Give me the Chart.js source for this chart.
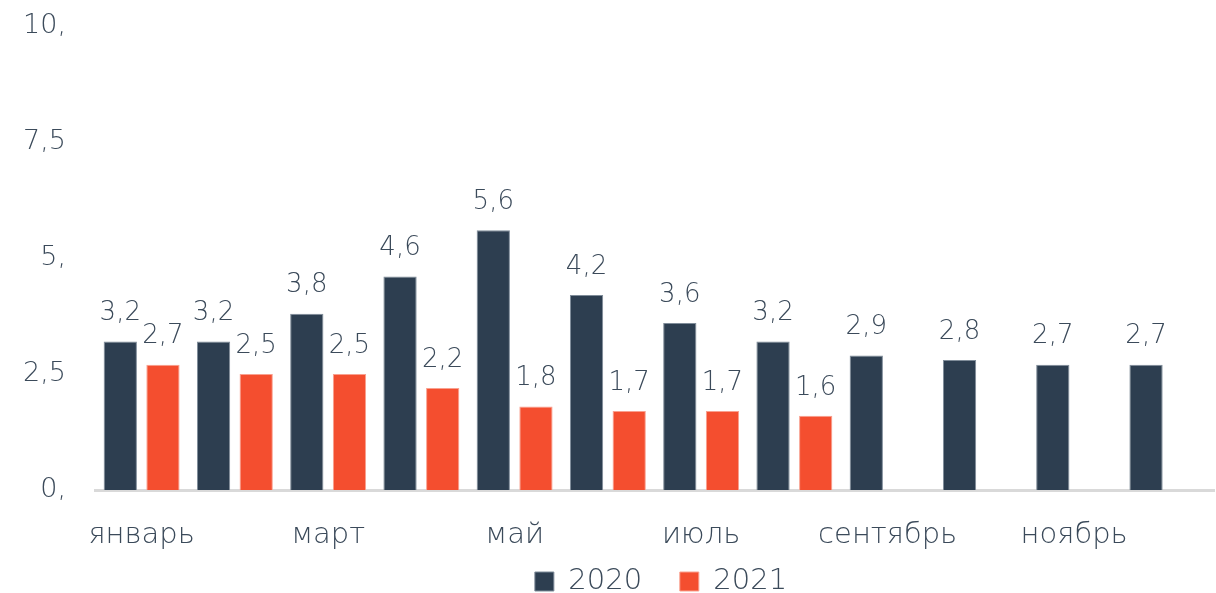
<!DOCTYPE html>
<html>
<head>
<meta charset="utf-8">
<script src="https://cdn.jsdelivr.net/npm/chart.js@4"></script>
<style>
  html, body { margin: 0; padding: 0; background: #fff; }
  #wrap { width: 1216px; height: 593px; }
</style>
</head>
<body>
<div id="wrap"><canvas id="chart"></canvas></div>
<script>
// данные
const months = ["январь", "февраль", "март", "апрель", "май", "июнь",
                "июль", "август", "сентябрь", "октябрь", "ноябрь", "декабрь"];
const values2020 = [3.2, 3.2, 3.8, 4.6, 5.6, 4.2, 3.6, 3.2, 2.9, 2.8, 2.7, 2.7];
const values2021 = [2.7, 2.5, 2.5, 2.2, 1.8, 1.7, 1.7, 1.6, null, null, null, null];
const yTicks = [0, 2.5, 5, 7.5, 10];

const FONT = "'DejaVu Sans', sans-serif";
const TEXT_COLOR = "#3b4a5a";

function formatNum(v) {
    if (Number.isInteger(v)) return v + ",";
    return String(v).replace(".", ",");
}

// подписи над столбиками
const barLabels = {
    id: "barLabels",
    afterDatasetsDraw(chart) {
        const ctx = chart.ctx;
        ctx.save();
        ctx.font = "200 26px " + FONT;
        ctx.fillStyle = TEXT_COLOR;
        ctx.textAlign = "center";
        ctx.textBaseline = "bottom";
        chart.data.datasets.forEach((ds, i) => {
            const meta = chart.getDatasetMeta(i);
            meta.data.forEach((bar, j) => {
                const v = ds.data[j];
                if (v === null || v === undefined) return;
                ctx.fillText(formatNum(v), bar.x, bar.y - 15);
            });
        });
        ctx.restore();
    }
};

// легенда чуть правее центра, как в оригинале
const shiftLegend = {
    id: "shiftLegend",
    afterLayout(chart) {
        const legend = chart.legend;
        legend.left += 54;
        legend.right += 54;
    }
};

new Chart(document.getElementById("chart"), {
    type: "bar",
    data: {
        labels: months,
        datasets: [
            {
                label: "2020",
                data: values2020,
                backgroundColor: "#2d3e50",
                borderColor: "#7f8c99",
                borderWidth: 1,
                barPercentage: 0.78,
                categoryPercentage: 0.915
            },
            {
                label: "2021",
                data: values2021,
                backgroundColor: "#f44e2f",
                borderColor: "#f9a08f",
                borderWidth: 1,
                barPercentage: 0.78,
                categoryPercentage: 0.915
            }
        ]
    },
    options: {
        responsive: true,
        maintainAspectRatio: false,
        animation: false,
        layout: { padding: { top: 26, right: 2, left: 0, bottom: -13 } },
        plugins: {
            tooltip: { enabled: false },
            legend: {
                position: "bottom",
                labels: {
                    boxWidth: 19,
                    boxHeight: 19,
                    padding: 10,
                    color: TEXT_COLOR,
                    font: { family: FONT, size: 29, weight: 200, lineHeight: 1 },
                    // пробелы дают промежуток между элементами легенды
                    generateLabels: (chart) => Chart.defaults.plugins.legend.labels
                        .generateLabels(chart)
                        .map((item, i) => ({ ...item, text: i === 0 ? item.text + "   " : item.text }))
                }
            }
        },
        scales: {
            x: {
                grid: { display: false },
                border: { color: "#d9d9d9", width: 3 },
                afterFit: (scale) => {
                    scale.height = 67;
                    scale.paddingLeft = 0;
                    scale.paddingRight = 0;
                },
                ticks: {
                    autoSkip: false,
                    maxRotation: 0,
                    padding: 20,
                    color: TEXT_COLOR,
                    font: { family: FONT, size: 29, weight: 200 },
                    callback: (v, i) => (i % 2 === 0 ? months[i] : "")
                }
            },
            y: {
                min: 0,
                max: 10,
                afterBuildTicks: (axis) => { axis.ticks = yTicks.map(v => ({ value: v })); },
                afterFit: (scale) => {
                    scale.width = 95;
                    scale.paddingTop = 0;
                    scale.paddingBottom = 0;
                },
                grid: { display: false },
                border: { display: false },
                ticks: {
                    padding: 21,
                    color: TEXT_COLOR,
                    font: { family: FONT, size: 27, weight: 200 },
                    callback: (v) => formatNum(v)
                }
            }
        }
    },
    plugins: [barLabels, shiftLegend]
});
</script>
</body>
</html>
